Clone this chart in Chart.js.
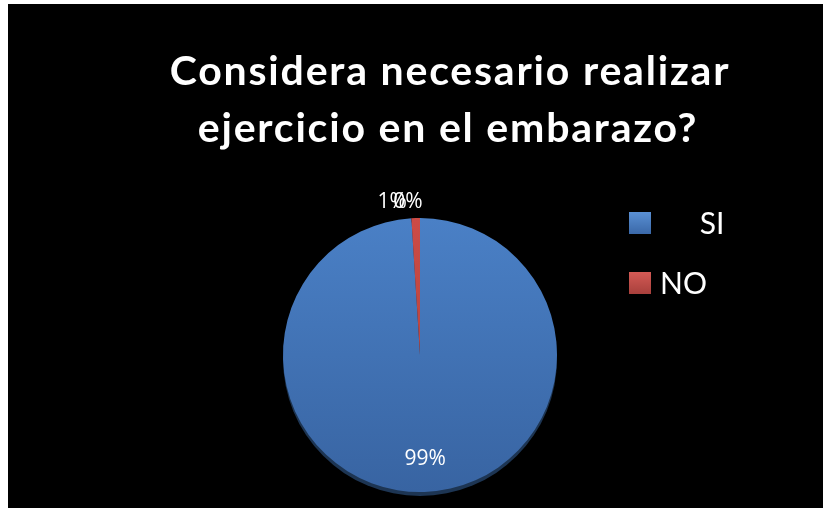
<!DOCTYPE html>
<html>
<head>
<meta charset="utf-8">
<script src="https://cdn.jsdelivr.net/npm/chart.js@4.4.0/dist/chart.umd.min.js"></script>
<style>
    html, body { margin: 0; padding: 0; background: #ffffff; }
    #wrap { position: absolute; left: 8px; top: 4px; width: 815px; height: 504px; background: #000000; }
</style>
</head>
<body>
<div id="wrap"><canvas id="pie"></canvas></div>
<script>
    // datos del grafico
    const TITLE_LINES = ['Considera necesario realizar', 'ejercicio en el embarazo?'];
    const categories = ['SI', 'NO', ''];
    const values = [99, 1, 0];
    const percentLabels = ['99%', '1%', '0%'];
    const legendNames = ['    SI', 'NO'];

    const BLUE = '#4377be';
    const RED = '#c0504d';

    function sliceColor(ctx) {
        var chart = ctx.chart;
        var area = chart.chartArea;
        if (!area) return ctx.dataIndex == 0 ? BLUE : RED;
        var g = chart.ctx.createLinearGradient(0, area.top, 0, area.bottom);
        if (ctx.dataIndex == 0) {
            g.addColorStop(0, '#4a80c6');
            g.addColorStop(1, '#3864a2');
        } else {
            g.addColorStop(0, '#cc4b46');
            g.addColorStop(1, '#a8403c');
        }
        return g;
    }

    // titulo, etiquetas y leyenda
    var decorPlugin = {
        id: 'decor',
        beforeDatasetsDraw(chart) {
            var c = chart.ctx;
            var arc = chart.getDatasetMeta(0).data[0];
            // sombra inferior
            c.save();
            c.beginPath();
            c.arc(arc.x, arc.y + 4, arc.outerRadius, 0, Math.PI * 2);
            c.fillStyle = '#1d3553';
            c.fill();
            c.restore();
        },
        afterDraw(chart) {
            var c = chart.ctx;
            c.save();
            c.fillStyle = '#ffffff';
            c.textAlign = 'center';
            c.textBaseline = 'alphabetic';
            c.font = 'bold 41px Lato';
            c.letterSpacing = '1.8px';
            c.fillText(TITLE_LINES[0], 442, 81);
            c.fillText(TITLE_LINES[1], 440, 138);
            c.letterSpacing = '0px';

            var meta = chart.getDatasetMeta(0);
            c.font = '21px "Open Sans"';
            c.textBaseline = 'middle';
            meta.data.forEach((arc, i) => {
                var mid = (arc.startAngle + arc.endAngle) / 2;
                var r = i == 0 ? arc.outerRadius * 0.76 : arc.outerRadius * 1.12;
                var dx = i == 1 ? -23 : (i == 2 ? -12 : 2);
                c.fillText(percentLabels[i], arc.x + Math.cos(mid) * r + dx, arc.y + Math.sin(mid) * r);
            });

            // leyenda
            var cols = [['#5a90d4', '#3a68a8'], ['#d45a55', '#a8403c']];
            var ys = [219, 279];
            c.textAlign = 'left';
            c.font = '30px Lato';
            legendNames.forEach((name, i) => {
                var g = c.createLinearGradient(0, ys[i] - 11, 0, ys[i] + 11);
                g.addColorStop(0, cols[i][0]);
                g.addColorStop(1, cols[i][1]);
                c.fillStyle = g;
                c.fillRect(621, ys[i] - 11, 22, 22);
                c.fillStyle = '#ffffff';
                c.fillText(name, i == 0 ? 661 : 652, ys[i] + 1);
            });
            c.restore();
        }
    };

    new Chart(document.getElementById('pie'), {
        type: 'pie',
        data: {
            labels: categories,
            datasets: [{
                data: values,
                backgroundColor: sliceColor,
                borderWidth: 0,
            }]
        },
        options: {
            responsive: true,
            maintainAspectRatio: false,
            animation: false,
            layout: { padding: { top: 214, bottom: 16, left: 275, right: 266 } },
            plugins: {
                legend: { display: false },
                tooltip: { enabled: false },
            },
        },
        plugins: [decorPlugin],
    });
</script>
</body>
</html>
